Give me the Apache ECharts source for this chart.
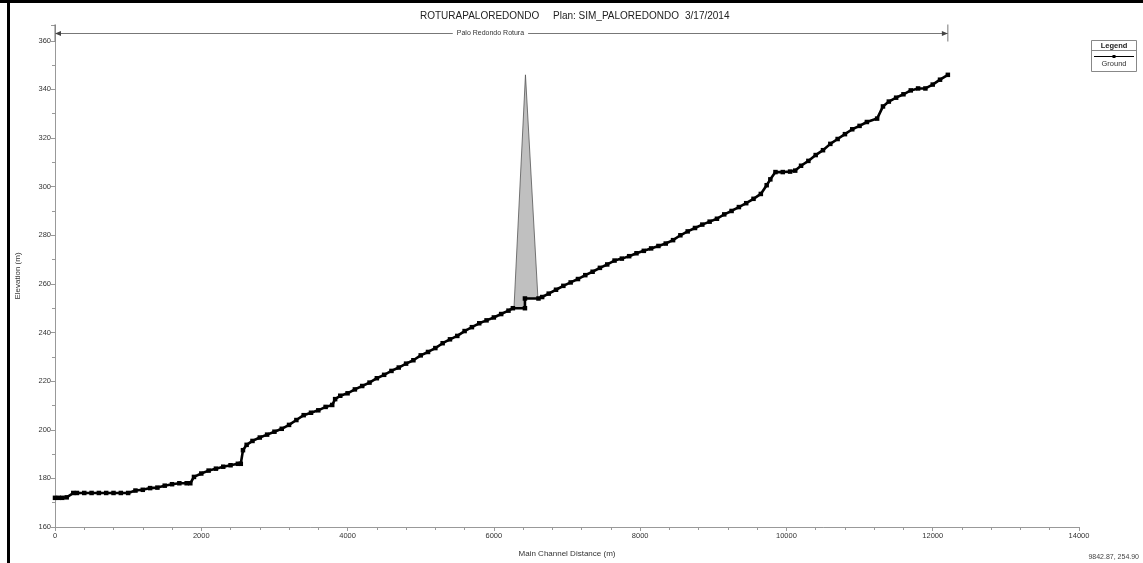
<!DOCTYPE html>
<html><head><meta charset="utf-8">
<script src="https://cdn.jsdelivr.net/npm/echarts@6/dist/echarts.min.js"></script>
<style>html,body{margin:0;padding:0;background:#fff}#c{width:1143px;height:563px}</style>
</head><body><div id="c"></div>
<script>
// Ground profile (Main Channel Distance m, Elevation m)
const stations = [0,50,100,160,250,300,400,500,600,700,800,900,1000,1100,1200,1300,1400,1500,1600,1700,1800,1850,1900,2000,2100,2200,2300,2400,2500,2540,2570,2620,2700,2800,2900,3000,3100,3200,3300,3400,3500,3600,3700,3790,3830,3900,4000,4100,4200,4300,4400,4500,4600,4700,4800,4900,5000,5100,5200,5300,5400,5500,5600,5700,5800,5900,6000,6100,6200,6260,6425,6425,6610,6660,6750,6850,6950,7050,7150,7250,7350,7450,7550,7650,7750,7850,7950,8050,8150,8250,8350,8450,8550,8650,8750,8850,8950,9050,9150,9250,9350,9450,9550,9650,9730,9780,9850,9950,10050,10120,10200,10300,10400,10500,10600,10700,10800,10900,11000,11100,11240,11320,11400,11500,11600,11700,11800,11900,12000,12100,12207];
const elevations = [172,172,172,172.2,174,174,174,174,174,174,174,174,174,175,175.3,176,176.2,177,177.6,178,178,178,180.6,182,183.2,184,184.8,185.4,186,186,191.6,193.8,195.4,196.8,198,199.2,200.4,202,204,206,207,208,209.4,210.2,212.6,214,215,216.6,218,219.4,221.2,222.6,224.2,225.6,227.2,228.6,230.6,232,233.6,235.6,237.2,238.6,240.6,242.2,243.8,245,246.2,247.6,249,250,250,254,254,254.6,256,257.6,259.2,260.6,262,263.6,265,266.6,268,269.6,270.4,271.4,272.6,273.6,274.6,275.6,276.6,278,280,281.6,283,284.4,285.6,286.8,288.6,290,291.6,293.2,295,297,300.6,303,306,306,306.2,306.6,308.6,310.6,313,315,317.6,319.6,321.6,323.6,325,326.6,328,333,335,336.6,338,339.6,340.4,340.4,342,344,346];
// Inline structure (dam) outline
const damX = [6275, 6432, 6603, 6603, 6425, 6425];
const damY = [250, 346, 254, 254, 254, 250];
// Reach annotation
const reachX = [0, 12207];
const reachElev = 363.4;
const reachName = 'Palo Redondo Rotura';
// Titles
const titleParts = ['ROTURAPALOREDONDO', 'Plan: SIM_PALOREDONDO', '3/17/2014'];
const xName = 'Main Channel Distance (m)';
const yName = 'Elevation (m)';
const cursorText = '9842.87, 254.90';

const chart = echarts.init(document.getElementById('c'));
const FONT = '"Liberation Sans", Arial, sans-serif';
const groundData = stations.map((s, i) => [s, elevations[i]]);

chart.setOption({
  animation: false,
  backgroundColor: '#fff',
  grid: { left: 55, right: 64, top: 25, bottom: 31 },
  xAxis: {
    type: 'value', min: 0, max: 14000, interval: 2000,
    name: xName, nameLocation: 'middle', nameGap: 23,
    nameTextStyle: { fontFamily: FONT, fontSize: 8, color: '#333' },
    axisLine: { lineStyle: { color: '#999', width: 1 } },
    axisTick: { show: true, length: 4, lineStyle: { color: '#999' } },
    minorTick: { show: true, splitNumber: 5, length: 3, lineStyle: { color: '#999' } },
    axisLabel: { fontFamily: FONT, fontSize: 7.5, color: '#333', margin: 5, formatter: v => String(v) },
    splitLine: { show: false }
  },
  yAxis: {
    type: 'value', min: 160, max: 366.5, interval: 20,
    name: yName, nameLocation: 'middle', nameGap: 33,
    nameTextStyle: { fontFamily: FONT, fontSize: 8, color: '#333' },
    axisLine: { show: true, lineStyle: { color: '#999', width: 1 } },
    axisTick: { show: true, length: 4, lineStyle: { color: '#999' } },
    minorTick: { show: true, splitNumber: 2, length: 3, lineStyle: { color: '#999' } },
    axisLabel: { fontFamily: FONT, fontSize: 7.5, color: '#333', margin: 4, showMaxLabel: false, formatter: v => String(v) },
    splitLine: { show: false }
  },
  series: [
    {
      type: 'custom', name: 'Dam', z: 1,
      data: damX.map((x, i) => [x, damY[i]]),
      renderItem: function (params, api) {
        if (params.dataIndex !== 0) return null;
        const pts = damX.map((x, i) => api.coord([x, damY[i]]));
        return { type: 'polygon', shape: { points: pts }, style: { fill: '#c0c0c0', stroke: '#555', lineWidth: 0.8 } };
      }
    },
    {
      type: 'line', name: 'Ground', z: 3,
      data: groundData,
      showAllSymbol: true,
      symbol: 'rect', symbolSize: 4.5,
      itemStyle: { color: '#000' },
      lineStyle: { color: '#000', width: 2.6 }
    },
    {
      type: 'custom', name: 'Reach', z: 2, clip: false,
      data: reachX.map(x => [x, reachElev]),
      renderItem: function (params, api) {
        if (params.dataIndex !== 0) return null;
        const a = api.coord([reachX[0], reachElev]);
        const b = api.coord([reachX[1], reachElev]);
        const y = Math.round(a[1]) + 0.5;
        const c = '#777';
        return {
          type: 'group',
          children: [
            { type: 'line', shape: { x1: a[0], y1: y, x2: b[0], y2: y }, style: { stroke: c, lineWidth: 1 } },
            { type: 'polygon', shape: { points: [[a[0], y], [a[0] + 6, y - 2.5], [a[0] + 6, y + 2.5]] }, style: { fill: '#444' } },
            { type: 'polygon', shape: { points: [[b[0], y], [b[0] - 6, y - 2.5], [b[0] - 6, y + 2.5]] }, style: { fill: '#444' } },
            { type: 'line', shape: { x1: a[0], y1: y - 9, x2: a[0], y2: y + 8 }, style: { stroke: c, lineWidth: 1 } },
            { type: 'line', shape: { x1: b[0], y1: y - 9, x2: b[0], y2: y + 8 }, style: { stroke: c, lineWidth: 1 } },
            { type: 'text', x: (a[0] + b[0]) / 2 - 11, y: y,
              style: { text: reachName, fontFamily: FONT, fontSize: 7, fill: '#333', align: 'center', verticalAlign: 'middle', backgroundColor: '#fff', padding: [1, 4] } }
          ]
        };
      }
    }
  ],
  graphic: [
    { type: 'rect', shape: { x: 0, y: 0, width: 1143, height: 3 }, style: { fill: '#000' }, silent: true },
    { type: 'rect', shape: { x: 7, y: 0, width: 3, height: 563 }, style: { fill: '#000' }, silent: true },
    { type: 'text', x: 420, y: 16, style: { text: titleParts[0], fontFamily: FONT, fontSize: 10, fill: '#222', verticalAlign: 'middle' } },
    { type: 'text', x: 553, y: 16, style: { text: titleParts[1], fontFamily: FONT, fontSize: 10, fill: '#222', verticalAlign: 'middle' } },
    { type: 'text', x: 685, y: 16, style: { text: titleParts[2], fontFamily: FONT, fontSize: 10, fill: '#222', verticalAlign: 'middle' } },
    { type: 'rect', shape: { x: 1091.5, y: 40.5, width: 45, height: 31 }, style: { fill: '#fff', stroke: '#888', lineWidth: 1 } },
    { type: 'text', x: 1114, y: 45.5, style: { text: 'Legend', fontFamily: FONT, fontSize: 7.5, fontWeight: 'bold', fill: '#222', align: 'center', verticalAlign: 'middle' } },
    { type: 'line', shape: { x1: 1091.5, y1: 50.5, x2: 1136.5, y2: 50.5 }, style: { stroke: '#888', lineWidth: 1 } },
    { type: 'line', shape: { x1: 1094, y1: 56.5, x2: 1134, y2: 56.5 }, style: { stroke: '#000', lineWidth: 1 } },
    { type: 'rect', shape: { x: 1112.5, y: 55, width: 3, height: 3 }, style: { fill: '#000' } },
    { type: 'text', x: 1114, y: 64, style: { text: 'Ground', fontFamily: FONT, fontSize: 7.5, fill: '#333', align: 'center', verticalAlign: 'middle' } },
    { type: 'text', x: 1139, y: 557, style: { text: cursorText, fontFamily: FONT, fontSize: 7, fill: '#444', align: 'right', verticalAlign: 'middle' } }
  ]
});
</script>
</body></html>
